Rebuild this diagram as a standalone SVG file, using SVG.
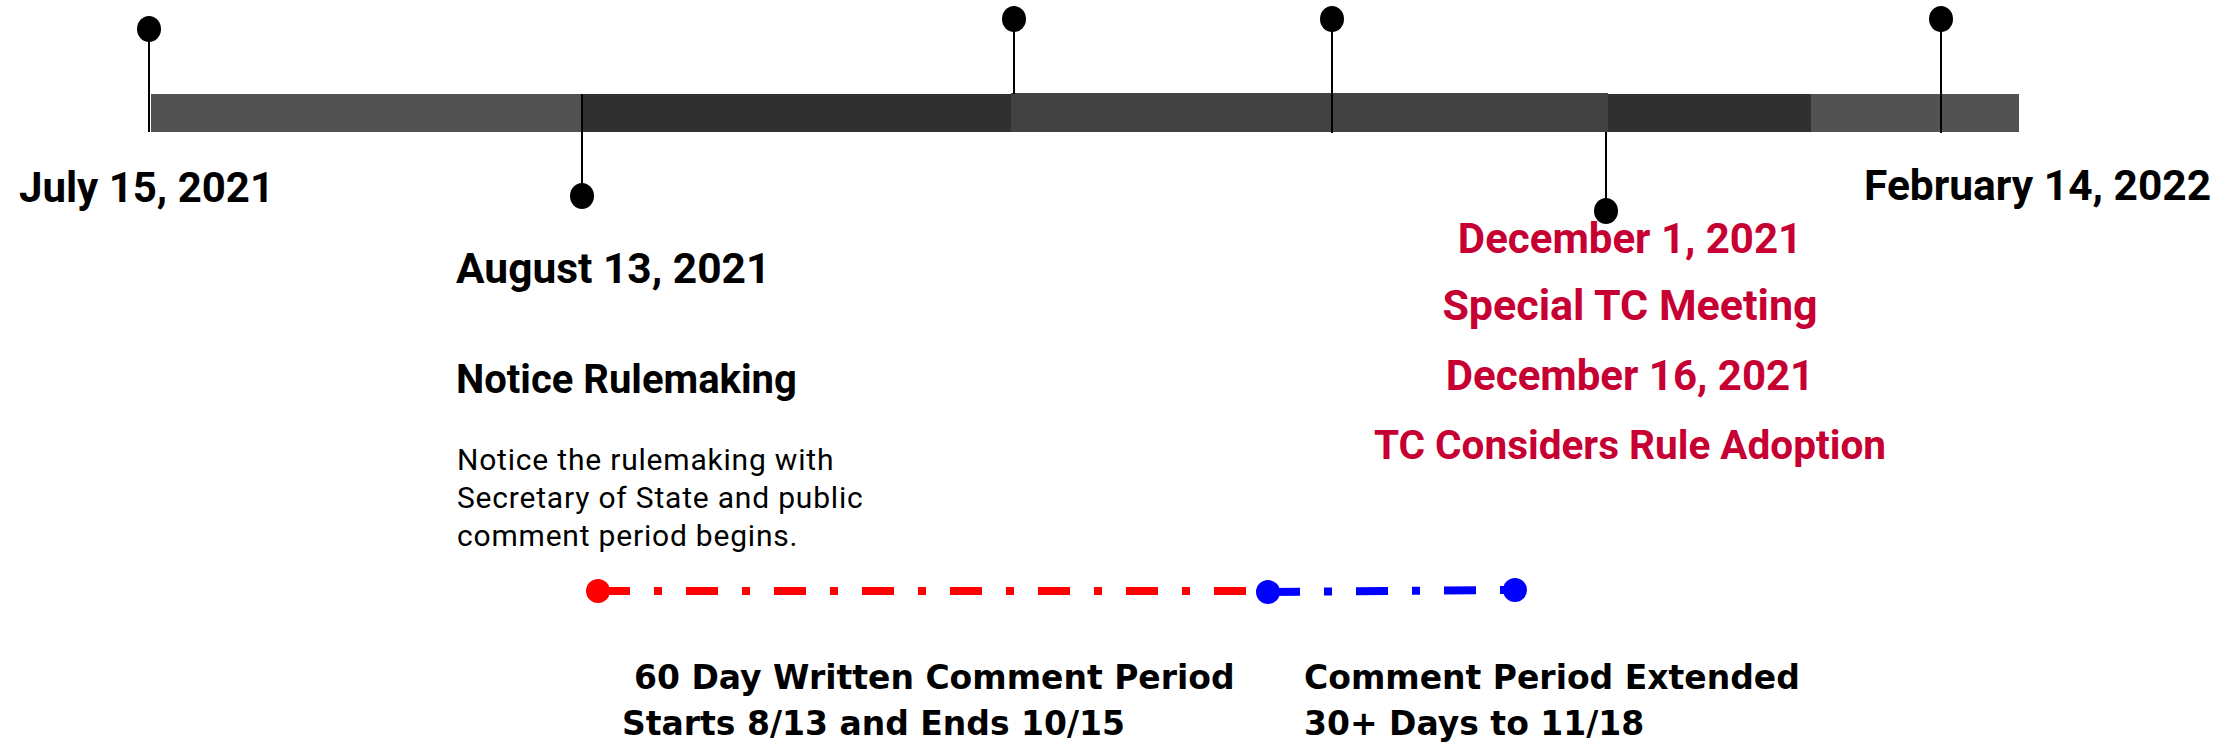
<svg xmlns="http://www.w3.org/2000/svg" width="2237" height="746" viewBox="0 0 2237 746">
<style>
.date{font-family:Roboto,"Liberation Sans",sans-serif;font-weight:bold;font-size:42px;fill:#000}
.red{font-family:Roboto,"Liberation Sans",sans-serif;font-weight:bold;font-size:42px;fill:#C60032;text-anchor:middle}
.body{font-family:Roboto,"Liberation Sans",sans-serif;font-size:30px;letter-spacing:0.8px;fill:#000}
.note{font-family:"DejaVu Sans",sans-serif;font-weight:bold;font-size:33px;fill:#000}
.stem{stroke:#000;stroke-width:2;fill:none}
.head{fill:#000}
</style>
<rect width="2237" height="746" fill="#fff"/>
<g id="timeline-bar">
<rect x="151" y="94" width="431" height="38" fill="#525252"/>
<rect x="582" y="94" width="429" height="38" fill="#303030"/>
<rect x="1011" y="93" width="597" height="39" fill="#424242"/>
<rect x="1608" y="94" width="203" height="38" fill="#303030"/>
<rect x="1811" y="94" width="208" height="38" fill="#525252"/>
</g>
<g id="connectors">
<line class="stem" x1="149" y1="40" x2="149" y2="132"/>
<line class="stem" x1="582" y1="94" x2="582" y2="185"/>
<line class="stem" x1="1014" y1="30" x2="1014" y2="94"/>
<line class="stem" x1="1332" y1="30" x2="1332" y2="133"/>
<line class="stem" x1="1606" y1="132" x2="1606" y2="200"/>
<line class="stem" x1="1941" y1="30" x2="1941" y2="133"/>
<line x1="598" y1="591" x2="1268" y2="591" stroke="#FF0000" stroke-width="8" stroke-dasharray="32 24 8 24"/>
<line x1="1268" y1="592" x2="1515" y2="590" stroke="#0000FF" stroke-width="8" stroke-dasharray="32 24 8 24"/>
</g>
<g id="pin-jul15"><ellipse class="head" cx="149" cy="29" rx="12" ry="13"/></g>
<g id="pin-aug13"><ellipse class="head" cx="582" cy="196" rx="12" ry="13"/></g>
<g id="pin-3"><ellipse class="head" cx="1014" cy="19" rx="12" ry="13"/></g>
<g id="pin-4"><ellipse class="head" cx="1332" cy="19" rx="12" ry="13"/></g>
<g id="pin-dec1"><ellipse class="head" cx="1606" cy="211" rx="12" ry="13"/></g>
<g id="pin-feb14"><ellipse class="head" cx="1941" cy="19" rx="12" ry="13"/></g>
<g id="dot-start"><circle cx="598" cy="591" r="12" fill="#FF0000"/></g>
<g id="dot-mid"><circle cx="1268" cy="592" r="12" fill="#0000FF"/></g>
<g id="dot-end"><circle cx="1515" cy="590" r="12" fill="#0000FF"/></g>
<g id="label-jul15"><text class="date" x="19" y="202">July 15, 2021</text></g>
<g id="label-feb14"><text class="date" x="1864" y="200" style="font-size:42.5px">February 14, 2022</text></g>
<g id="label-aug13">
<text class="date" x="456" y="283" style="font-size:42.5px">August 13, 2021</text>
<text class="date" x="456" y="393" style="font-size:40px">Notice Rulemaking</text>
<text class="body" x="457" y="470">Notice the rulemaking with</text>
<text class="body" x="457" y="508">Secretary of State and public</text>
<text class="body" x="457" y="546">comment period begins.</text>
</g>
<g id="label-dec">
<text class="red" x="1630" y="253">December 1, 2021</text>
<text class="red" x="1630" y="320" style="font-size:43px">Special TC Meeting</text>
<text class="red" x="1630" y="390">December 16, 2021</text>
<text class="red" x="1630" y="459" style="font-size:40.5px">TC Considers Rule Adoption</text>
</g>
<g id="label-period1">
<text class="note" x="634" y="689">60 Day Written Comment Period</text>
<text class="note" x="622" y="735">Starts 8/13 and Ends 10/15</text>
</g>
<g id="label-period2">
<text class="note" x="1304" y="689">Comment Period Extended</text>
<text class="note" x="1304" y="735">30+ Days to 11/18</text>
</g>
</svg>
